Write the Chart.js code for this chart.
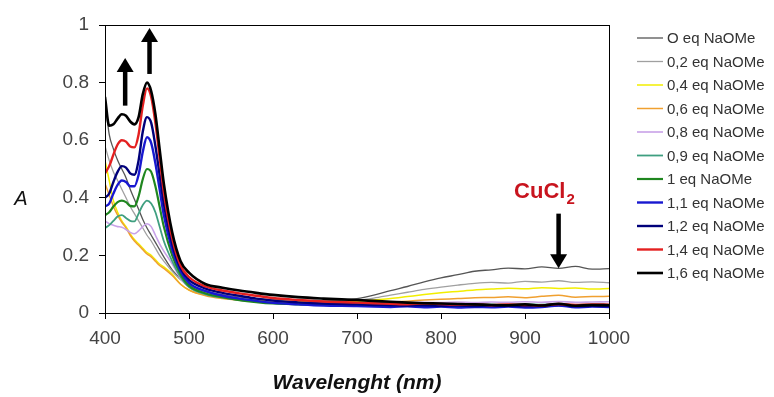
<!DOCTYPE html>
<html>
<head>
<meta charset="utf-8">
<script src="https://cdn.jsdelivr.net/npm/chart.js@4.4.1/dist/chart.umd.min.js"></script>
<style>
  html, body { margin: 0; padding: 0; background: #fff; }
  #wrap { width: 774px; height: 397px; }
</style>
</head>
<body>
<div id="wrap"><canvas id="spectra" width="774" height="397"></canvas></div>
<script>
// ----------- data -----------
const wavelengths = [400, 405, 410, 415, 420, 425, 430, 435, 440, 445, 450, 455, 460, 465, 470,
  480, 490, 500, 520, 540, 560, 580, 600, 630, 660,
  700, 720, 740, 760, 780, 800, 820, 840, 860, 880, 900, 920, 940, 960, 980, 1000];

const eq00 = [0.74, 0.62, 0.57, 0.53, 0.50, 0.47, 0.43, 0.395, 0.36, 0.325, 0.295, 0.27, 0.245, 0.22, 0.195,
  0.15, 0.12, 0.10, 0.075, 0.063, 0.055, 0.05, 0.047, 0.044, 0.042,
  0.05, 0.062, 0.078, 0.092, 0.108, 0.122, 0.133, 0.145, 0.150, 0.156, 0.153, 0.160, 0.155, 0.162, 0.152, 0.154];
const eq02 = [0.58, 0.53, 0.49, 0.46, 0.43, 0.40, 0.37, 0.345, 0.32, 0.295, 0.27, 0.25, 0.225, 0.20, 0.18,
  0.145, 0.115, 0.095, 0.072, 0.06, 0.053, 0.048, 0.045, 0.042, 0.04,
  0.045, 0.052, 0.062, 0.072, 0.082, 0.09, 0.097, 0.103, 0.106, 0.104, 0.110, 0.107, 0.112, 0.106, 0.108, 0.105];
const eq04 = [0.53, 0.46, 0.39, 0.35, 0.32, 0.30, 0.275, 0.255, 0.24, 0.225, 0.21, 0.20, 0.185, 0.17, 0.16,
  0.135, 0.10, 0.08, 0.062, 0.052, 0.046, 0.043, 0.041, 0.039, 0.038,
  0.04, 0.045, 0.05, 0.057, 0.064, 0.07, 0.075, 0.08, 0.083, 0.086, 0.084, 0.088, 0.085, 0.087, 0.083, 0.085];
const eq06 = [0.45, 0.41, 0.37, 0.34, 0.315, 0.295, 0.27, 0.25, 0.235, 0.22, 0.205, 0.195, 0.18, 0.165, 0.155,
  0.13, 0.10, 0.08, 0.06, 0.05, 0.044, 0.04, 0.037, 0.035, 0.034,
  0.034, 0.036, 0.038, 0.041, 0.045, 0.048, 0.05, 0.053, 0.054, 0.056, 0.053, 0.058, 0.062, 0.055, 0.057, 0.058];
const eq08 = [0.32, 0.31, 0.305, 0.30, 0.298, 0.29, 0.28, 0.275, 0.285, 0.30, 0.31, 0.30, 0.27, 0.24, 0.215,
  0.17, 0.12, 0.09, 0.065, 0.054, 0.046, 0.041, 0.038, 0.035, 0.034,
  0.034, 0.035, 0.036, 0.035, 0.037, 0.036, 0.038, 0.036, 0.038, 0.037, 0.039, 0.037, 0.04, 0.037, 0.038, 0.039];
const eq09 = [0.295, 0.305, 0.32, 0.335, 0.34, 0.33, 0.32, 0.318, 0.345, 0.375, 0.39, 0.38, 0.35, 0.30, 0.25,
  0.18, 0.125, 0.09, 0.065, 0.053, 0.045, 0.04, 0.035, 0.032, 0.03,
  0.03, 0.029, 0.031, 0.03, 0.029, 0.031, 0.03, 0.028, 0.03, 0.029, 0.031, 0.029, 0.03, 0.028, 0.03, 0.029];
const eq10 = [0.34, 0.35, 0.37, 0.385, 0.39, 0.385, 0.372, 0.37, 0.405, 0.465, 0.50, 0.49, 0.44, 0.37, 0.30,
  0.20, 0.135, 0.095, 0.068, 0.055, 0.045, 0.038, 0.033, 0.03, 0.028,
  0.026, 0.025, 0.027, 0.025, 0.026, 0.024, 0.026, 0.025, 0.024, 0.026, 0.025, 0.023, 0.026, 0.024, 0.025, 0.024];
const eq11 = [0.37, 0.38, 0.415, 0.445, 0.46, 0.455, 0.44, 0.44, 0.48, 0.56, 0.61, 0.59, 0.52, 0.43, 0.34,
  0.22, 0.145, 0.105, 0.076, 0.06, 0.05, 0.042, 0.035, 0.03, 0.026,
  0.024, 0.022, 0.021, 0.023, 0.02, 0.022, 0.019, 0.021, 0.02, 0.022, 0.019, 0.021, 0.026, 0.02, 0.022, 0.021];
const eq12 = [0.40, 0.415, 0.455, 0.49, 0.51, 0.505, 0.485, 0.48, 0.53, 0.63, 0.68, 0.66, 0.58, 0.48, 0.38,
  0.24, 0.155, 0.115, 0.085, 0.07, 0.06, 0.05, 0.043, 0.037, 0.033,
  0.03, 0.028, 0.027, 0.026, 0.027, 0.025, 0.026, 0.024, 0.026, 0.025, 0.024, 0.026, 0.03, 0.024, 0.025, 0.024];
const eq14 = [0.485, 0.51, 0.55, 0.585, 0.60, 0.595, 0.578, 0.575, 0.62, 0.72, 0.78, 0.75, 0.66, 0.54, 0.42,
  0.26, 0.165, 0.125, 0.092, 0.078, 0.068, 0.06, 0.052, 0.045, 0.04,
  0.036, 0.034, 0.032, 0.03, 0.033, 0.031, 0.029, 0.03, 0.027, 0.03, 0.028, 0.026, 0.031, 0.028, 0.03, 0.029];
const eq16 = [0.75, 0.65, 0.655, 0.675, 0.69, 0.685, 0.665, 0.655, 0.68, 0.76, 0.80, 0.77, 0.69, 0.57, 0.45,
  0.28, 0.18, 0.14, 0.10, 0.088, 0.078, 0.07, 0.063, 0.055, 0.05,
  0.045, 0.042, 0.039, 0.036, 0.034, 0.033, 0.031, 0.03, 0.028, 0.027, 0.03, 0.026, 0.032, 0.025, 0.028, 0.027];

const seriesLabels = ["O eq NaOMe", "0,2 eq NaOMe", "0,4 eq NaOMe", "0,6 eq NaOMe", "0,8 eq NaOMe", "0,9 eq NaOMe",
  "1 eq NaOMe", "1,1 eq NaOMe", "1,2 eq NaOMe", "1,4 eq NaOMe", "1,6 eq NaOMe"];
const seriesValues = [eq00, eq02, eq04, eq06, eq08, eq09, eq10, eq11, eq12, eq14, eq16];
const seriesColors = ["#555555", "#a0a0a0", "#f2ee00", "#f0a030", "#c8a2e8", "#3f9f80", "#1f861f", "#1818d0", "#00007a", "#e42020", "#000000"];
const seriesWidths = [1.3, 1.3, 1.5, 1.5, 1.6, 1.8, 2.2, 2.4, 2.4, 2.4, 2.6];

const FONT = "'Liberation Sans', Arial, sans-serif";

// ----------- arrows, CuCl2 label, "A", frame and legend -----------
function arrow(ctx, x, yTail, yHead) {
  const dir = yHead < yTail ? -1 : 1;
  ctx.strokeStyle = "#000";
  ctx.fillStyle = "#000";
  ctx.lineWidth = 4.5;
  ctx.beginPath();
  ctx.moveTo(x, yTail);
  ctx.lineTo(x, yHead - dir * 10);
  ctx.stroke();
  ctx.beginPath();
  ctx.moveTo(x, yHead);
  ctx.lineTo(x - 8.5, yHead - dir * 14);
  ctx.lineTo(x + 8.5, yHead - dir * 14);
  ctx.closePath();
  ctx.fill();
}

const extras = {
  id: "extras",
  afterDraw(chart) {
    const ctx = chart.ctx;
    const xs = chart.scales.x, ys = chart.scales.y;
    const a = chart.chartArea;
    ctx.save();

    // frame
    ctx.strokeStyle = "#000";
    ctx.lineWidth = 1;
    ctx.strokeRect(a.left + 0.5, a.top + 0.5, a.right - a.left, a.bottom - a.top);

    // arrows
    arrow(ctx, xs.getPixelForValue(424), ys.getPixelForValue(0.72), ys.getPixelForValue(0.885));
    arrow(ctx, xs.getPixelForValue(453), ys.getPixelForValue(0.83), ys.getPixelForValue(0.99));
    arrow(ctx, xs.getPixelForValue(940), ys.getPixelForValue(0.345), ys.getPixelForValue(0.155));

    // CuCl2
    ctx.fillStyle = "#c8141e";
    ctx.font = "bold 22px " + FONT;
    ctx.textBaseline = "alphabetic";
    ctx.textAlign = "left";
    const cx = xs.getPixelForValue(887), cy = ys.getPixelForValue(0.40);
    ctx.fillText("CuCl", cx, cy);
    const w = ctx.measureText("CuCl").width;
    ctx.font = "bold 15px " + FONT;
    ctx.fillText("2", cx + w + 1, cy + 6);

    // y label, upright
    ctx.fillStyle = "#111";
    ctx.font = "italic 20px " + FONT;
    ctx.textAlign = "center";
    ctx.textBaseline = "middle";
    ctx.fillText("A", 21, 199);

    // legend
    ctx.font = "15px " + FONT;
    ctx.textAlign = "left";
    seriesLabels.forEach((lab, i) => {
      const y = 38 + i * 23.5;
      ctx.strokeStyle = seriesColors[i];
      ctx.lineWidth = seriesWidths[i];
      ctx.beginPath();
      ctx.moveTo(637, y);
      ctx.lineTo(663, y);
      ctx.stroke();
      ctx.fillStyle = "#333";
      ctx.fillText(lab, 667, y + 1);
    });
    ctx.restore();
  },
};

const datasets = seriesLabels.map((lab, i) => ({
  label: lab,
  data: seriesValues[i].map((v, k) => ({ x: wavelengths[k], y: v })),
  borderColor: seriesColors[i],
  backgroundColor: seriesColors[i],
  borderWidth: seriesWidths[i],
  pointRadius: 0,
  tension: 0.4,
  cubicInterpolationMode: "monotone",
  fill: false,
  order: seriesLabels.length - i,
}));

new Chart(document.getElementById("spectra").getContext("2d"), {
  type: "line",
  data: { datasets },
  options: {
    responsive: false,
    animation: false,
    devicePixelRatio: 1,
    layout: { padding: { top: 25, right: 165, left: 0, bottom: 0 } },
    plugins: { legend: { display: false }, tooltip: { enabled: false } },
    scales: {
      x: {
        type: "linear",
        min: 400,
        max: 1000,
        afterFit: (s) => { s.height = 84; },
        ticks: {
          stepSize: 100, padding: 8, color: "#444", maxRotation: 0,
          font: { family: FONT, size: 19 },
          callback: (v) => String(v),
        },
        grid: { drawOnChartArea: false, tickLength: 6, color: "#000" },
        border: { color: "#000" },
        title: {
          display: true,
          text: "Wavelenght (nm)",
          color: "#111",
          font: { family: FONT, size: 21, weight: "bold", style: "italic" },
          padding: { top: 4, bottom: 1 },
        },
      },
      y: {
        min: 0,
        max: 1,
        afterFit: (s) => { s.width = 105; },
        ticks: {
          stepSize: 0.2, padding: 10, color: "#444",
          font: { family: FONT, size: 19 },
          callback: (v) => String(Math.round(v * 10) / 10),
        },
        grid: { drawOnChartArea: false, tickLength: 6, color: "#000" },
        border: { color: "#000" },
      },
    },
  },
  plugins: [extras],
});
</script>
</body>
</html>
